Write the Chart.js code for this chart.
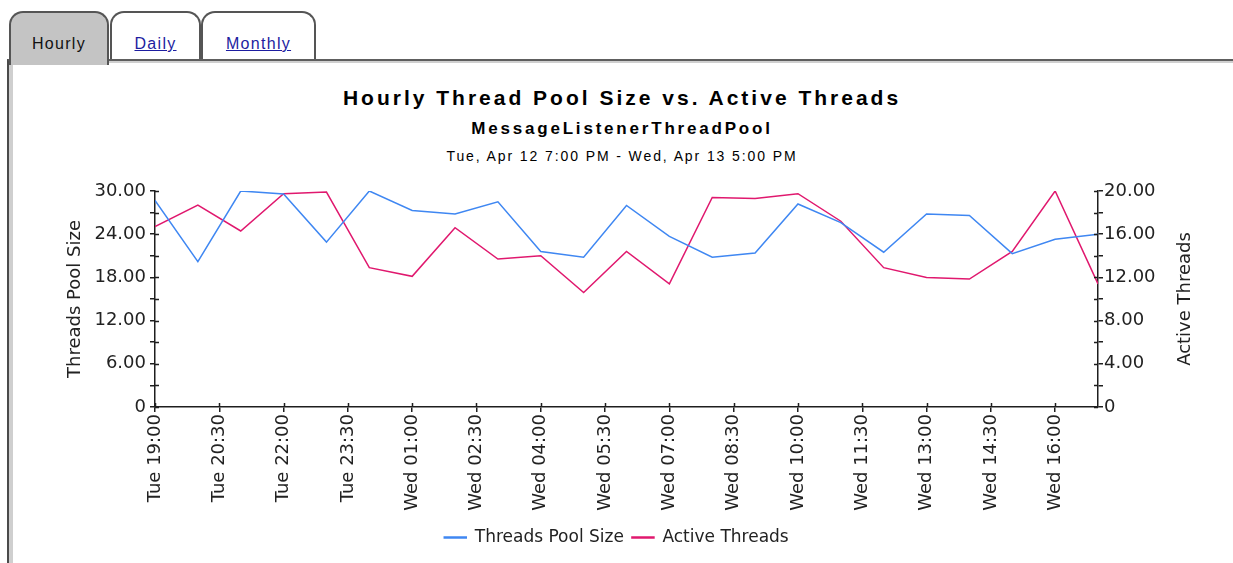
<!DOCTYPE html>
<html>
<head>
<meta charset="utf-8">
<title>Hourly Thread Pool Size vs. Active Threads</title>
<script src="https://cdn.jsdelivr.net/npm/chart.js@4/dist/chart.umd.min.js"></script>
<style>
  html, body { margin: 0; padding: 0; background: #fff; }
  body { width: 1233px; height: 563px; position: relative; overflow: hidden; font-family: "Liberation Sans", Arial, sans-serif; }
  .panel { position: absolute; left: 7px; top: 59px; width: 1240px; height: 520px; border-top: 2px solid #5e5e5e; border-left: 2px solid #4a4a4a; box-shadow: inset 4px 2px 0 #cfcfcf; background: #fff; }
  .tab { position: absolute; top: 11px; height: 46px; border: 2px solid #555; border-bottom: none; border-radius: 14px 14px 0 0; background: #fff; text-align: center; line-height: 62px; font-size: 16px; letter-spacing: 1.3px; box-sizing: content-box; }
  .tab a { color: #1d1da0; text-decoration: underline; }
  .tab.on { background: #c4c4c4; height: 52px; z-index: 2; color: #111; }
  .head { position: absolute; left: 0; width: 1244px; text-align: center; color: #000; white-space: nowrap; }
  #chartBox { position: absolute; left: 0; top: 0; width: 1233px; height: 563px; z-index: 3; }
</style>
</head>
<body>
<div class="panel"></div>
<div class="tab on" style="left:9px; width:96px;">Hourly</div>
<div class="tab" style="left:110px; width:87px;"><a>Daily</a></div>
<div class="tab" style="left:201px; width:111px;"><a>Monthly</a></div>

<div class="head" style="top:86px; font-size:21px; font-weight:bold; letter-spacing:3px;">Hourly Thread Pool Size vs. Active Threads</div>
<div class="head" style="top:119px; font-size:17px; font-weight:bold; letter-spacing:2.8px;">MessageListenerThreadPool</div>
<div class="head" style="top:148px; font-size:14px; letter-spacing:1.9px;">Tue, Apr 12 7:00 PM - Wed, Apr 13 5:00 PM</div>

<div id="chartBox"><canvas id="threadChart" width="1233" height="563"></canvas></div>

<script>
// hourly samples, Tue 19:00 through Wed 17:00
var sampleTimes = ['Tue 19:00', 'Tue 20:00', 'Tue 21:00', 'Tue 22:00', 'Tue 23:00',
                   'Wed 00:00', 'Wed 01:00', 'Wed 02:00', 'Wed 03:00', 'Wed 04:00',
                   'Wed 05:00', 'Wed 06:00', 'Wed 07:00', 'Wed 08:00', 'Wed 09:00',
                   'Wed 10:00', 'Wed 11:00', 'Wed 12:00', 'Wed 13:00', 'Wed 14:00',
                   'Wed 15:00', 'Wed 16:00', 'Wed 17:00'];
var poolSize = [28.7, 20.2, 30.0, 29.6, 22.9, 30.0, 27.3, 26.8, 28.5, 21.6, 20.8, 28.0,
                23.7, 20.8, 21.4, 28.2, 25.6, 21.5, 26.8, 26.6, 21.3, 23.3, 24.0];
var activeThreads = [16.7, 18.7, 16.3, 19.75, 19.9, 12.9, 12.1, 16.6, 13.7, 14.0, 10.6, 14.4,
                     11.4, 19.4, 19.3, 19.75, 17.2, 12.9, 12.0, 11.85, 14.4, 20.0, 11.4];
var timeTicks = ['Tue 19:00', 'Tue 20:30', 'Tue 22:00', 'Tue 23:30', 'Wed 01:00', 'Wed 02:30',
                 'Wed 04:00', 'Wed 05:30', 'Wed 07:00', 'Wed 08:30', 'Wed 10:00', 'Wed 11:30',
                 'Wed 13:00', 'Wed 14:30', 'Wed 16:00'];
var poolTicks = [0, 3, 6, 9, 12, 15, 18, 21, 24, 27, 30];
var activeTicks = [0, 2, 4, 6, 8, 10, 12, 14, 16, 18, 20];

var axisColor = '#1e1e1e';
var tickFont = { family: 'DejaVu Sans', size: 18 };

// hours since Tue 19:00
function toHours(label) {
    var day = label.indexOf('Wed') === 0 ? 24 : 0;
    var hm = label.split(' ')[1].split(':');
    return day + parseInt(hm[0], 10) + parseInt(hm[1], 10) / 60 - 19;
}

function points(values) {
    var pts = [];
    for (var i = 0; i < values.length; i++) {
        pts.push({ x: toHours(sampleTimes[i]), y: values[i] });
    }
    return pts;
}

function fixedTicks(list) {
    return function(scale) {
        scale.ticks = list.map(function(v) { return { value: v }; });
    };
}

function fmt(v) {
    return v === 0 ? '0' : v.toFixed(2);
}

// tick stubs inside the plot and the right axis title
var axisExtras = {
    id: 'axisExtras',
    afterDraw: function(chart) {
        var ctx = chart.ctx, area = chart.chartArea;
        ctx.save();
        ctx.strokeStyle = axisColor;
        ctx.lineWidth = 1.5;
        ctx.beginPath();
        chart.scales.y.ticks.forEach(function(t) {
            var py = Math.round(chart.scales.y.getPixelForValue(t.value)) + 0.5;
            ctx.moveTo(area.left, py); ctx.lineTo(area.left + 4, py);
        });
        chart.scales.y1.ticks.forEach(function(t) {
            var py = Math.round(chart.scales.y1.getPixelForValue(t.value)) + 0.5;
            ctx.moveTo(area.right, py); ctx.lineTo(area.right - 4, py);
        });
        chart.scales.x.ticks.forEach(function(t) {
            var px = Math.round(chart.scales.x.getPixelForValue(t.value)) + 0.5;
            ctx.moveTo(px, area.bottom); ctx.lineTo(px, area.bottom - 4);
        });
        ctx.stroke();

        var s = chart.scales.y1;
        ctx.fillStyle = '#222';
        ctx.font = '18px "DejaVu Sans"';
        ctx.textAlign = 'center';
        ctx.textBaseline = 'middle';
        ctx.translate(s.right - 38, (area.top + area.bottom) / 2);
        ctx.rotate(-Math.PI / 2);
        ctx.fillText('Active Threads', 0, 0);
        ctx.restore();
    }
};

function createGraph(id) {
    var ctx = document.getElementById(id);
    var myChart = new Chart(ctx, {
        type: 'line',
        data: {
            datasets: [{
                label: 'Threads Pool Size',
                data: points(poolSize),
                yAxisID: 'y',
                borderColor: '#3f87f2',
                backgroundColor: '#3f87f2',
                borderWidth: 1.5,
                pointRadius: 0,
                tension: 0
            }, {
                label: 'Active Threads',
                data: points(activeThreads),
                yAxisID: 'y1',
                borderColor: '#e0186e',
                backgroundColor: '#e0186e',
                borderWidth: 1.5,
                pointRadius: 0,
                tension: 0
            }]
        },
        options: {
            responsive: false,
            animation: false,
            layout: { padding: { left: 10, right: 10, top: 191, bottom: 7 } },
            plugins: {
                legend: {
                    position: 'bottom',
                    labels: {
                        boxWidth: 22,
                        boxHeight: 1,
                        padding: 8,
                        color: '#222',
                        font: { family: 'DejaVu Sans', size: 17 }
                    }
                },
                tooltip: { enabled: false }
            },
            scales: {
                x: {
                    type: 'linear',
                    min: 0,
                    max: toHours('Wed 17:00'),
                    afterBuildTicks: fixedTicks(timeTicks.map(toHours)),
                    afterFit: function(scale) { scale.height = 114; },
                    grid: { display: true, drawOnChartArea: false, tickLength: 5, color: axisColor, lineWidth: 1.5 },
                    border: { color: axisColor, width: 1.5 },
                    ticks: {
                        autoSkip: false,
                        minRotation: 90,
                        maxRotation: 90,
                        padding: 2,
                        color: '#222',
                        font: tickFont,
                        callback: function(value, index) { return timeTicks[index]; }
                    }
                },
                y: {
                    position: 'left',
                    min: 0,
                    max: 30,
                    afterBuildTicks: fixedTicks(poolTicks),
                    afterFit: function(scale) { scale.width = 145; },
                    grid: { drawOnChartArea: false, tickLength: 5, color: axisColor, lineWidth: 1.5 },
                    border: { color: axisColor, width: 1.5 },
                    title: {
                        display: true,
                        text: 'Threads Pool Size',
                        color: '#222',
                        font: { family: 'DejaVu Sans', size: 18 },
                        padding: { top: 55, bottom: 0 }
                    },
                    ticks: {
                        autoSkip: false,
                        padding: 4,
                        color: '#222',
                        font: tickFont,
                        callback: function(value) { return value % 6 === 0 ? fmt(value) : ''; }
                    }
                },
                y1: {
                    position: 'right',
                    min: 0,
                    max: 20,
                    afterBuildTicks: fixedTicks(activeTicks),
                    afterFit: function(scale) { scale.width = 125; },
                    grid: { drawOnChartArea: false, tickLength: 5, color: axisColor, lineWidth: 1.5 },
                    border: { color: axisColor, width: 1.5 },
                    ticks: {
                        autoSkip: false,
                        padding: 1,
                        color: '#222',
                        font: tickFont,
                        callback: function(value) { return value % 4 === 0 ? fmt(value) : ''; }
                    }
                }
            }
        },
        plugins: [axisExtras]
    });
    return myChart;
}

createGraph('threadChart');
</script>
</body>
</html>
